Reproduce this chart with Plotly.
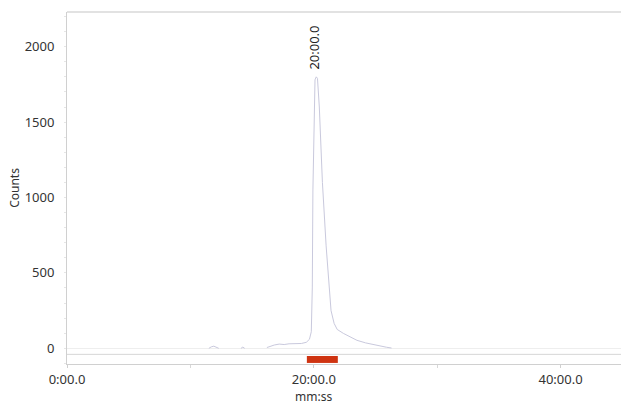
import plotly.graph_objects as go

# ---- data (time in minutes, counts) ----
time_min = [11.5, 11.7, 11.9, 12.1, 12.3, None,
            14.1, 14.25, 14.4, None,
            16.2, 16.5, 16.8, 17.2, 17.6, 18.0, 18.5, 19.0, 19.4, 19.65, 19.8,
            19.88, 19.93, 20.0, 20.1, 20.2, 20.3, 20.45, 20.7, 21.0, 21.4,
            21.65, 21.9, 22.4, 23.0, 23.5, 24.2, 25.0, 25.9, 26.3]
counts = [0, 10, 14, 6, 0, None,
          0, 8, 0, None,
          5, 15, 22, 28, 25, 30, 30, 32, 40, 60, 110,
          400, 1050, 1500, 1780, 1800, 1790, 1600, 1100, 680, 250,
          165, 125, 99, 72, 53, 36, 20, 7, 2]

peak_label = "20:00.0"
peak_time = 20.0
peak_label_y = 1800
integration_window = [19.44, 21.95]
tick_vals = [0, 20, 40]
tick_text = ["0:00.0", "20:00.0", "40:00.0"]
y_ticks = [0, 500, 1000, 1500, 2000]

x_range = [0, 44.9]
y_range = [-104, 2230]
strip_line_y = -40
bar_y = [-51, -97]

font_family = "Noto Sans, sans-serif"

fig = go.Figure()
fig.add_trace(go.Scatter(
    x=time_min, y=counts, mode="lines",
    line=dict(color="#c9c9dd", width=1),
    connectgaps=False, hoverinfo="skip", showlegend=False,
))

# strip separator line and integration bar
fig.add_shape(type="line", xref="paper", yref="y", x0=0, x1=1,
              y0=strip_line_y, y1=strip_line_y,
              line=dict(color="#d6d6d6", width=1))
fig.add_shape(type="rect", xref="x", yref="y",
              x0=integration_window[0], x1=integration_window[1],
              y0=bar_y[0], y1=bar_y[1],
              fillcolor="#cf3412", line=dict(width=0))
# top border
fig.add_shape(type="line", xref="paper", yref="paper", x0=0, x1=1, y0=1, y1=1,
              line=dict(color="#e2e2e2", width=2))

fig.add_annotation(x=peak_time, y=peak_label_y, xref="x", yref="y",
                   text=peak_label, textangle=-90, showarrow=False,
                   yanchor="bottom", xanchor="center", yshift=5,
                   font=dict(family=font_family, size=13, color="#222222"))
fig.add_annotation(x=20, y=-0.093, xref="x", yref="paper", text="mm:ss",
                   showarrow=False, yanchor="middle",
                   font=dict(family=font_family, size=12, color="#333333"))

fig.update_xaxes(range=x_range, tickvals=tick_vals, ticktext=tick_text,
                 showgrid=False, zeroline=False, showline=True,
                 linecolor="#d0d0d0", linewidth=1,
                 ticks="outside", ticklen=3, tickcolor="#d0d0d0",
                 minor=dict(dtick=10, ticks="outside", ticklen=3, tickcolor="#d8d8d8"),
                 tickfont=dict(family=font_family, size=13, color="#333333"))
fig.update_yaxes(range=y_range, tickvals=y_ticks,
                 showgrid=False, zeroline=True, zerolinecolor="#eeeeee", zerolinewidth=1,
                 showline=True, linecolor="#d0d0d0", linewidth=1,
                 ticks="", ticklabelstandoff=9,
                 minor=dict(dtick=100, ticks="outside", ticklen=2, tickcolor="#e6e6e6"),
                 title=dict(text="Counts", standoff=2,
                            font=dict(family=font_family, size=12, color="#333333")),
                 tickfont=dict(family=font_family, size=13, color="#333333"))

fig.update_layout(
    width=621, height=407,
    margin=dict(l=67, r=0, t=12, b=43, autoexpand=False),
    plot_bgcolor="white", paper_bgcolor="white",
    showlegend=False,
)

fig.write_html("out.html", config={"displayModeBar": False, "staticPlot": True})

# remove the default page margin so the figure sits at the window's corner
with open("out.html", "r", encoding="utf-8") as f:
    html = f.read()
html = html.replace("<head>", "<head><style>html,body{margin:0;padding:0;overflow:hidden}</style>", 1)
with open("out.html", "w", encoding="utf-8") as f:
    f.write(html)
